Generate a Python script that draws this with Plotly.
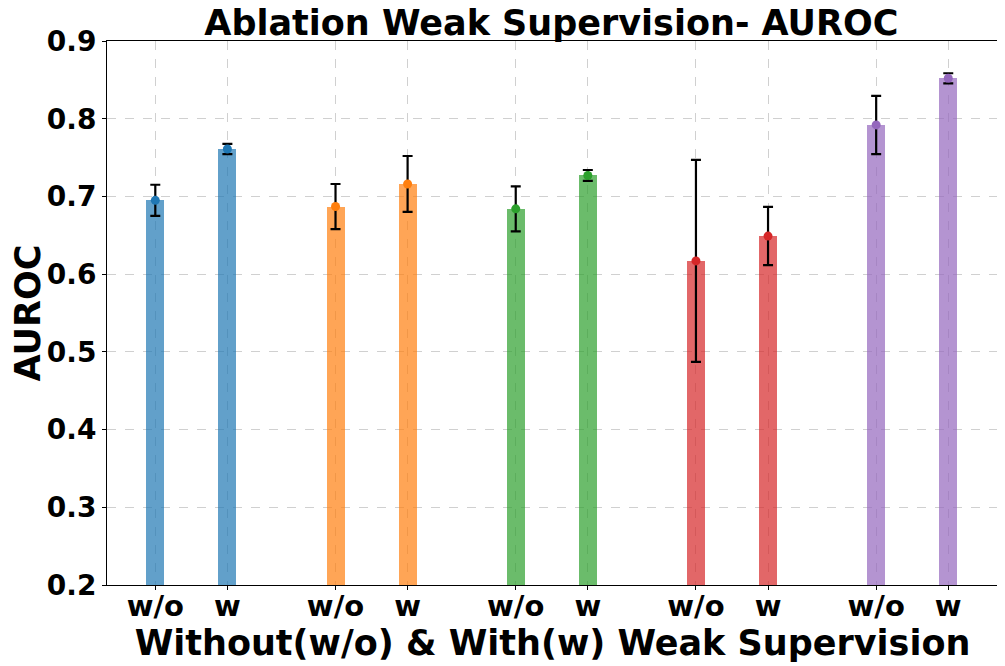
import plotly.graph_objects as go

# data
groups = ['g1', 'g2', 'g3', 'g4', 'g5']
colors = ['#1f77b4', '#ff7f0e', '#2ca02c', '#d62728', '#9467bd']
auroc_without = [0.695, 0.687, 0.684, 0.617, 0.792]
auroc_with = [0.761, 0.716, 0.727, 0.649, 0.852]
err_without = [0.020, 0.029, 0.029, 0.130, 0.0375]
err_with = [0.0065, 0.036, 0.007, 0.0375, 0.0065]
tick_labels = ['w/o', 'w']

fig = go.Figure()

tickvals, ticktext = [], []
for i, g in enumerate(groups):
    xs = [2.5 * i, 2.5 * i + 1]
    ys = [auroc_without[i], auroc_with[i]]
    es = [err_without[i], err_with[i]]
    tickvals += xs
    ticktext += tick_labels
    fig.add_trace(go.Bar(
        x=xs, y=[y - 0.2 for y in ys], base=0.2,
        width=0.25,
        marker=dict(color=colors[i], opacity=0.7, line=dict(width=0)),
        showlegend=False,
    ))
    fig.add_trace(go.Scatter(
        x=xs, y=ys,
        mode='markers',
        marker=dict(color=colors[i], size=9),
        error_y=dict(type='data', array=es, color='black', thickness=2.2, width=5),
        showlegend=False,
    ))

# the page has an 8px body margin, so the figure is a bit smaller than the window
font = 'DejaVu Sans'
fig.update_layout(
    width=997, height=658,
    margin=dict(l=99, r=7, t=33, b=81),
    plot_bgcolor='white',
    paper_bgcolor='white',
    font=dict(family=font, color='black'),
    title=dict(text='<b>Ablation Weak Supervision- AUROC</b>', x=0.545, xanchor='center',
               y=0.978, yanchor='middle', font=dict(size=35, family=font)),
    bargap=0,
)
fig.update_xaxes(
    automargin=False,
    range=[-0.67, 11.69],
    tickvals=tickvals, ticktext=['<b>%s</b>' % t for t in ticktext],
    tickfont=dict(size=29, family=font),
    ticklabelstandoff=-9,
    showgrid=True, gridcolor='#d0d0d0', griddash='dash', gridwidth=1,
    showline=True, linecolor='black', linewidth=1, mirror=True,
    ticks='outside', ticklen=4, tickcolor='black',
    title=dict(text='<b>Without(w/o) & With(w) Weak Supervision</b>', font=dict(size=35, family=font), standoff=0),
)
fig.update_yaxes(
    automargin=False,
    range=[0.2, 0.9], dtick=0.1, tickformat='.1f',
    tickfont=dict(size=28, family=font, weight='bold'),
    showgrid=True, gridcolor='#d0d0d0', griddash='dash', gridwidth=1,
    showline=True, linecolor='black', linewidth=1, mirror=True,
    ticks='outside', ticklen=4, tickcolor='black',
    zeroline=False,
    title=dict(text='<b>AUROC</b>', font=dict(size=35, family=font), standoff=6),
)

fig.write_html('out.html')
